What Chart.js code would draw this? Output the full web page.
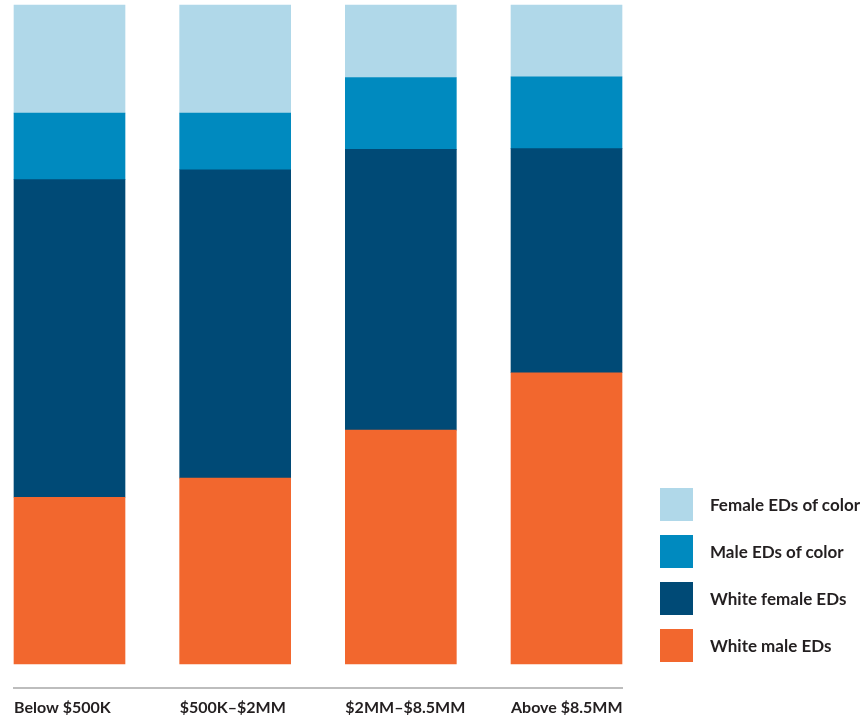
<!DOCTYPE html>
<html>
<head>
<meta charset="utf-8">
<script src="https://cdn.jsdelivr.net/npm/chart.js@4"></script>
<style>
  html, body { margin: 0; padding: 0; background: #fff; }
  #wrap { position: relative; width: 861px; height: 718px; }
  #legend { position: absolute; left: 660px; top: 488px; font-family: Lato, sans-serif; font-weight: 700; font-size: 17px; color: #231f20; }
  #legend .item { display: flex; align-items: center; height: 33px; margin-bottom: 14px; }
  #legend .box { width: 33px; height: 33px; margin-right: 17px; }
</style>
</head>
<body>
<div id="wrap">
  <canvas id="chart"></canvas>
  <div id="legend"></div>
</div>
<script>
// categories
const budgets = ["Below $500K", "$500K\u2013$2MM", "$2MM\u2013$8.5MM", "Above $8.5MM"];

// shares of executive directors (%), bottom to top
const whiteMale = [25.3, 28.2, 35.5, 44.2];
const whiteFemale = [48.2, 46.8, 42.6, 34.0];
const maleOfColor = [10.1, 8.6, 10.9, 10.9];
const femaleOfColor = [16.4, 16.4, 11.0, 10.9];

const FONT = "Lato, sans-serif";

// ==========================
// axis line under the bars
// ==========================
const baseLine = {
    id: "baseLine",
    afterDatasetsDraw(chart) {
        const bars = chart.getDatasetMeta(0).data;
        const first = bars[0], last = bars[bars.length - 1];
        const ctx = chart.ctx;
        const y = chart.chartArea.bottom + 24;
        ctx.save();
        ctx.strokeStyle = "#bdbdbd";
        ctx.lineWidth = 2;
        ctx.beginPath();
        ctx.moveTo(first.x - first.width / 2 - 1, y);
        ctx.lineTo(last.x + last.width / 2 + 1, y);
        ctx.stroke();
        ctx.restore();
    }
};

const chart = new Chart(document.getElementById("chart"), {
    type: "bar",
    data: {
        labels: budgets,
        datasets: [
            { label: "White male EDs", data: whiteMale, backgroundColor: "#f2672e" },
            { label: "White female EDs", data: whiteFemale, backgroundColor: "#004a76" },
            { label: "Male EDs of color", data: maleOfColor, backgroundColor: "#008abf" },
            { label: "Female EDs of color", data: femaleOfColor, backgroundColor: "#b0d8e9" }
        ]
    },
    options: {
        responsive: true,
        maintainAspectRatio: false,
        animation: false,
        datasets: { bar: { barThickness: 111, clip: false, borderWidth: 0 } },
        layout: { padding: { left: 69.5, right: 294.5, top: 5, bottom: 0 } },
        plugins: { legend: { display: false }, tooltip: { enabled: false } },
        scales: {
            x: {
                stacked: true,
                offset: false,
                grid: { display: false, drawTicks: false },
                border: { display: false },
                afterFit(scale) { scale.height = 54; },
                ticks: {
                    align: "start",
                    labelOffset: -55.5,
                    padding: 34,
                    color: "#231f20",
                    font: { family: FONT, size: 16, weight: "bold" },
                    maxRotation: 0,
                    autoSkip: false
                }
            },
            y: {
                stacked: true,
                display: false,
                min: 0,
                max: 100
            }
        }
    },
    plugins: [baseLine]
});

// ==========================
// legend, top item = top of stack
// ==========================
const legend = document.getElementById("legend");
chart.data.datasets.slice().reverse().forEach(ds => {
    const item = document.createElement("div");
    item.className = "item";
    const box = document.createElement("div");
    box.className = "box";
    box.style.background = ds.backgroundColor;
    const txt = document.createElement("span");
    txt.textContent = ds.label;
    item.appendChild(box);
    item.appendChild(txt);
    legend.appendChild(item);
});
</script>
</body>
</html>
